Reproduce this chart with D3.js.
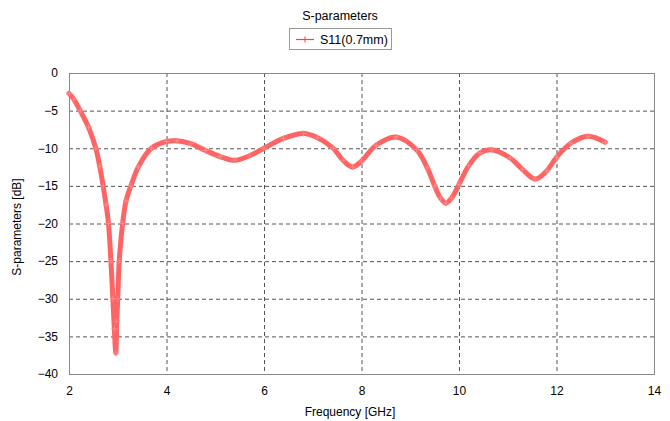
<!DOCTYPE html>
<html>
<head>
<meta charset="utf-8">
<script src="https://cdn.jsdelivr.net/npm/d3@7"></script>
<style>
  body { margin: 0; background: #fff; }
  svg { font-family: "Liberation Sans", Arial, sans-serif; }
</style>
</head>
<body>
<svg id="svg" width="670" height="421"></svg>
<script>
// values
var freq = [2.00, 2.10, 2.23, 2.40, 2.55, 2.63, 2.70, 2.76, 2.81, 2.86, 2.90, 2.93, 2.96, 2.98,
            3.00, 3.03, 3.10, 3.17, 3.27, 3.42, 3.69, 4.00, 4.21, 4.50, 4.80, 5.10, 5.40, 5.70,
            6.00, 6.40, 6.81, 7.10, 7.42, 7.62, 7.82, 8.00, 8.30, 8.71, 9.13, 9.35, 9.50, 9.62,
            9.73, 9.85, 10.00, 10.20, 10.43, 10.67, 11.05, 11.30, 11.56, 11.80, 12.00, 12.30,
            12.65, 13.00];
var s11 = [-2.7, -3.5, -5.0, -7.2, -10.0, -12.4, -15.0, -17.5, -20.0, -25.0, -30.0, -34.0, -37.2, -33.0,
           -30.0, -25.0, -20.0, -17.0, -15.0, -12.5, -10.0, -9.1, -9.0, -9.4, -10.3, -11.1, -11.6, -11.0,
           -10.0, -8.7, -8.05, -8.6, -10.0, -11.6, -12.5, -11.7, -9.6, -8.5, -10.2, -12.6, -15.0, -16.6,
           -17.3, -16.6, -14.8, -12.3, -10.6, -10.2, -11.3, -12.8, -14.1, -13.0, -11.2, -9.3,
           -8.4, -9.2];
var xTicks = [2, 4, 6, 8, 10, 12, 14];
var yTicks = [0, -5, -10, -15, -20, -25, -30, -35, -40];
var seriesName = "S11(0.7mm)";

function chart() {
    var svg = d3.select("svg"),
        margin = {left: 69, right: 16, top: 73, bottom: 47},
        width = 670 - margin.left - margin.right,
        height = 421 - margin.top - margin.bottom;

    var data = freq.map(function (f, i) { return {f: f, v: s11[i]}; });

    var x = d3.scaleLinear().domain([2, 14]).range([0, width]);
    var y = d3.scaleLinear().domain([-40, 0]).range([height, 0]);

    var g = svg.append("g").attr("transform", "translate(" + margin.left + "," + margin.top + ")");

    // grid
    g.append("g")
        .selectAll("line")
        .data(xTicks.slice(1, -1))
        .enter().append("line")
        .attr("x1", function (d) { return x(d) + 0.5; })
        .attr("x2", function (d) { return x(d) + 0.5; })
        .attr("y1", 0).attr("y2", height)
        .attr("stroke", "#555").attr("stroke-dasharray", "4,3");

    g.append("g")
        .selectAll("line")
        .data(yTicks.slice(1, -1))
        .enter().append("line")
        .attr("y1", function (d) { return y(d) + 0.5; })
        .attr("y2", function (d) { return y(d) + 0.5; })
        .attr("x1", 0).attr("x2", width)
        .attr("stroke", "#555").attr("stroke-dasharray", "4,3");

    // frame
    g.append("rect")
        .attr("x", 0.5).attr("y", 0.5)
        .attr("width", width).attr("height", height)
        .attr("fill", "none").attr("stroke", "#888");

    // axes
    var xAxis = g.append("g")
        .attr("transform", "translate(0," + height + ")")
        .call(d3.axisBottom(x).tickValues(xTicks).tickSize(0).tickPadding(12));
    xAxis.select(".domain").remove();

    var yAxis = g.append("g")
        .call(d3.axisLeft(y).tickValues(yTicks).tickSize(0).tickPadding(11));
    yAxis.select(".domain").remove();

    svg.selectAll(".tick text")
        .attr("font-size", 12)
        .attr("font-family", "Liberation Sans, Arial, sans-serif")
        .attr("fill", "#000");

    // line
    var line = d3.line()
        .x(function (d) { return x(d.f); })
        .y(function (d) { return y(d.v); })
        .curve(d3.curveCatmullRom.alpha(0.5));

    g.append("path")
        .datum(data)
        .attr("fill", "none")
        .attr("stroke", "#ff6464")
        .attr("stroke-width", 5)
        .attr("stroke-linejoin", "round")
        .attr("stroke-linecap", "round")
        .attr("d", line);

    // + markers
    g.append("g")
        .selectAll("path")
        .data(data)
        .enter().append("path")
        .attr("d", function (d) {
            var px = x(d.f), py = y(d.v);
            return "M" + (px - 3) + "," + py + "H" + (px + 3) + "M" + px + "," + (py - 3) + "V" + (py + 3);
        })
        .attr("stroke", "#ff8c8c")
        .attr("stroke-width", 1);

    // title
    svg.append("text")
        .attr("x", 340).attr("y", 20)
        .attr("text-anchor", "middle")
        .attr("font-size", 12.5)
        .text("S-parameters");

    // legend
    var lg = svg.append("g");
    lg.append("rect")
        .attr("x", 289.5).attr("y", 28.5)
        .attr("width", 102).attr("height", 21)
        .attr("fill", "#fff").attr("stroke", "#999");
    lg.append("line")
        .attr("x1", 296).attr("x2", 314)
        .attr("y1", 39.5).attr("y2", 39.5)
        .attr("stroke", "#ff4040").attr("stroke-width", 1.2);
    lg.append("path")
        .attr("d", "M305,36.5V42.5")
        .attr("stroke", "#ff4040");
    lg.append("text")
        .attr("x", 320).attr("y", 44)
        .attr("font-size", 12.5)
        .text(seriesName);

    // axis labels
    svg.append("text")
        .attr("x", 350).attr("y", 416)
        .attr("text-anchor", "middle")
        .attr("font-size", 12)
        .text("Frequency [GHz]");

    svg.append("text")
        .attr("transform", "translate(21,227) rotate(-90)")
        .attr("text-anchor", "middle")
        .attr("font-size", 12)
        .text("S-parameters [dB]");
}

chart();
</script>
</body>
</html>
